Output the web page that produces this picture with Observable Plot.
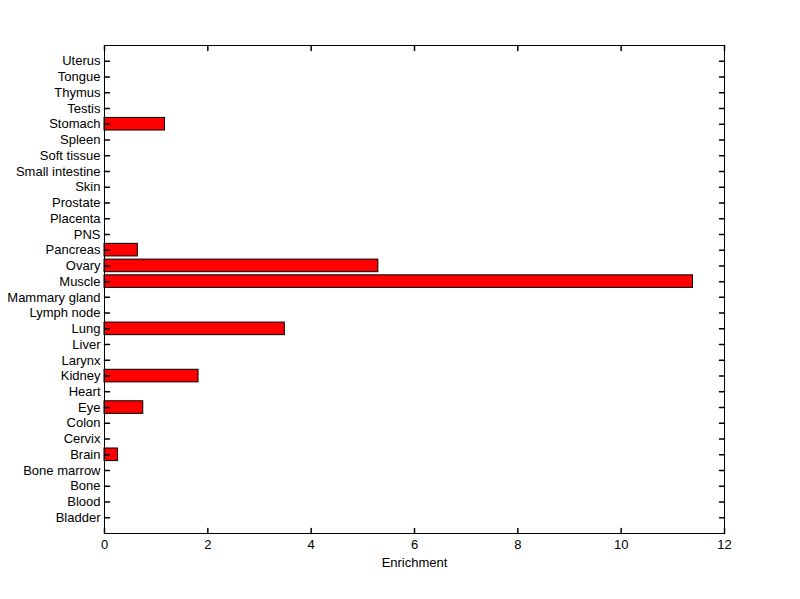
<!DOCTYPE html>
<html>
<head>
<meta charset="utf-8">
<script src="https://cdn.jsdelivr.net/npm/d3@7"></script>
<script src="https://cdn.jsdelivr.net/npm/@observablehq/plot@0.6"></script>
<style>
  html, body { margin: 0; padding: 0; background: #fff; }
  svg { display: block; }
</style>
</head>
<body>
<div id="chart"></div>
<script>
// Tissues, listed top to bottom as in the chart
const tissues = ["Uterus","Tongue","Thymus","Testis","Stomach","Spleen","Soft tissue","Small intestine","Skin","Prostate","Placenta","PNS","Pancreas","Ovary","Muscle","Mammary gland","Lymph node","Lung","Liver","Larynx","Kidney","Heart","Eye","Colon","Cervix","Brain","Bone marrow","Bone","Blood","Bladder"];
const enrichment = [0,0,0,0,1.17,0,0,0,0,0,0,0,0.645,5.30,11.39,0,0,3.49,0,0,1.82,0,0.75,0,0,0.26,0,0,0,0];
const xTicks = [0,2,4,6,8,10,12];

const data = tissues.map((t, i) => ({tissue: t, value: enrichment[i]}));
const tick = {draw(ctx, l) { ctx.moveTo(0, 0); ctx.lineTo(0, -l); }};
const font = "Liberation Sans, Arial, Helvetica, sans-serif";

const chart = Plot.plot({
  width: 800,
  height: 599,
  marginLeft: 104,
  marginRight: 76,
  marginTop: 45,
  marginBottom: 66,
  style: {fontFamily: font, fontSize: "13px", color: "#000", background: "#fff"},
  x: {domain: [0, 12], label: null},
  y: {domain: tissues, paddingInner: 0.2, paddingOuter: 0.6, round: false, label: null},
  marks: [
    Plot.barX(data, {filter: d => d.value > 0, x: "value", y: "tissue", fill: "#ff0000", stroke: "#000", strokeWidth: 1}),
    Plot.axisY({anchor: "left", tickSize: 0, tickPadding: 4, fontSize: 13, label: null}),
    Plot.axisX({anchor: "bottom", ticks: xTicks, tickSize: 0, tickPadding: 6, fontSize: 13, label: null, tickFormat: d => String(d)}),
    Plot.vector(tissues, {y: d => d, frameAnchor: "left", rotate: 90, length: 5, anchor: "start", shape: tick, stroke: "#000"}),
    Plot.vector(tissues, {y: d => d, frameAnchor: "right", rotate: -90, length: 5, anchor: "start", shape: tick, stroke: "#000"}),
    Plot.vector(xTicks, {x: d => d, frameAnchor: "bottom", rotate: 0, length: 5, anchor: "start", shape: tick, stroke: "#000"}),
    Plot.vector(xTicks, {x: d => d, frameAnchor: "top", rotate: 180, length: 5, anchor: "start", shape: tick, stroke: "#000"}),
    Plot.frame({stroke: "#000", strokeWidth: 1}),
    Plot.text(["Enrichment"], {frameAnchor: "bottom", dy: 33, text: d => d, fontSize: 13, fill: "#000"})
  ]
});
document.getElementById("chart").appendChild(chart);
</script>
</body>
</html>
